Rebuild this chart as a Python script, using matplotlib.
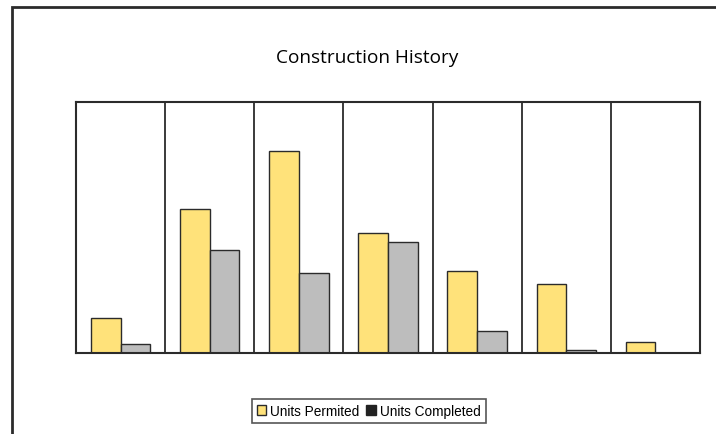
import matplotlib
matplotlib.use("Agg")
from matplotlib import pyplot as plt
from matplotlib.patches import Patch, Rectangle
import numpy as np

# values (no y axis labels shown, so units are relative)
categories = ["1", "2", "3", "4", "5", "6", "7"]
units_permited = [35, 144, 202, 120, 82, 69, 11]
units_completed = [9, 103, 80, 111, 22, 3, 0]
series_labels = ["Units Permited", "Units Completed"]

yellow = "#FFE27A"
gray = "#BDBDBD"
edge = "#2b2b2b"

fig = plt.figure(figsize=(7.16, 4.35), dpi=100)
fig.patch.set_facecolor("white")

# outer chart frame (only left and top edges fall inside the picture)
fig.patches.append(Rectangle((12 / 716, -0.1), 1.2, 1 - 8 / 435 + 0.1,
                             transform=fig.transFigure, fill=False,
                             edgecolor=edge, linewidth=2))

ax = fig.add_axes([76 / 716, 1 - 354 / 435, 624 / 716, 251 / 435])

x = np.arange(len(categories))
w = 1 / 3
ax.bar(x - w / 2, units_permited, w, color=yellow, edgecolor=edge, linewidth=1)
ax.bar(x + w / 2, units_completed, w, color=gray, edgecolor=edge, linewidth=1)

ax.set_xlim(-0.5, len(categories) - 0.5)
ax.set_ylim(0, 251)
for b in np.arange(0.5, len(categories) - 0.5):
    ax.axvline(b, color=edge, linewidth=1.3, zorder=0)
for s in ax.spines.values():
    s.set_color(edge)
    s.set_linewidth(1.5)
ax.set_xticks([])
ax.set_yticks([])

fig.text(0.513, 1 - 58 / 435, "Construction History", ha="center", va="center",
         fontsize=13.7, family="Open Sans")

handles = [Patch(facecolor=yellow, edgecolor=edge, linewidth=1),
           Patch(facecolor="#222222", edgecolor="#222222", linewidth=1)]
leg = fig.legend(handles, series_labels, loc="center", bbox_to_anchor=(0.515, 1 - 412 / 435),
                 ncol=2, fancybox=False, frameon=True, handlelength=0.7, handleheight=0.7,
                 handletextpad=0.3, columnspacing=0.5, borderpad=0.35,
                 prop={"family": "Liberation Sans", "size": 9.8})
leg.get_frame().set_edgecolor(edge)
leg.get_frame().set_linewidth(1.2)

fig.savefig("out.png", dpi=100)
